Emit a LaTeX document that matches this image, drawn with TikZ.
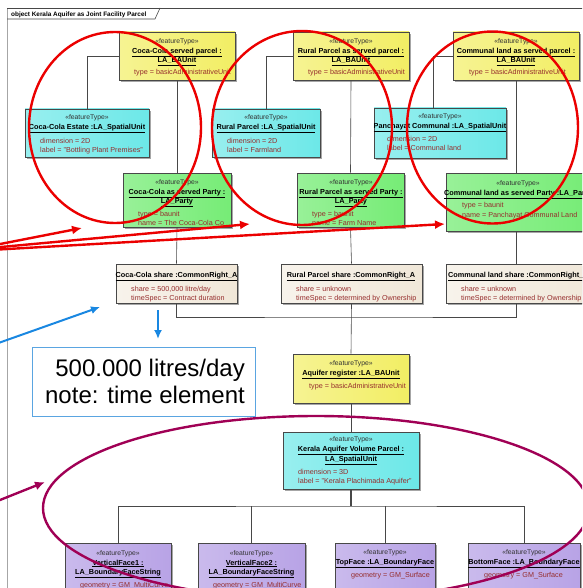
\documentclass[tikz,border=0pt]{standalone}
\usepackage{fontspec}
\setmainfont{Liberation Sans}
\usetikzlibrary{arrows.meta,fit,shadows}
\definecolor{ycol}{RGB}{242,238,100}
\definecolor{ccol}{RGB}{108,232,232}
\definecolor{gcol}{RGB}{118,236,118}
\definecolor{bcol}{RGB}{240,231,216}
\definecolor{pcol}{RGB}{184,163,230}
\definecolor{attr}{RGB}{150,45,45}
\definecolor{bord}{RGB}{72,72,72}
\definecolor{annred}{RGB}{235,0,0}
\definecolor{annmag}{RGB}{160,0,85}
\definecolor{annblue}{RGB}{25,135,225}
\definecolor{noteb}{RGB}{90,165,225}
\newcommand\myul[1]{\underline{#1}}
\begin{document}
\begin{tikzpicture}[x=1pt,y=-1pt,
  umlbox/.style={draw=bord, line width=0.6pt, inner sep=0pt,
    drop shadow={shadow xshift=1.6pt,shadow yshift=-1.6pt,opacity=0.35,fill=black}},
  ybox/.style={umlbox, left color=ycol!70!white, right color=ycol},
  cbox/.style={umlbox, left color=ccol!70!white, right color=ccol},
  gbox/.style={umlbox, left color=gcol!75!white, right color=gcol},
  bbox/.style={umlbox, left color=bcol!50!white, right color=bcol},
  pbox/.style={umlbox, left color=pcol!75!white, right color=pcol},
  sttxt/.style={font=\fontsize{6.8}{7}\selectfont, text=black!80, inner sep=0pt, anchor=base},
  nmtxt/.style={font=\bfseries\fontsize{7.3}{8}\selectfont, inner sep=0pt, anchor=base},
  nmltxt/.style={nmtxt, anchor=base west},
  attrtxt/.style={font=\fontsize{7.2}{8}\selectfont, text=attr, inner sep=0pt, anchor=base west},
  conn/.style={draw=bord, line width=0.6pt},
  annarrow/.style={line width=2.4pt, -{Latex[length=10pt,width=9pt]}},
  annring/.style={line width=2.4pt}
]
\useasboundingbox (0,0) rectangle (582,588);
\clip (0,0) rectangle (582,588);

% frame
\draw[gray!70, line width=1pt] (7,590) -- (7,8);
\draw[bord, line width=0.6pt] (7,8) -- (584,8);
\draw[bord, line width=0.6pt] (7,19) -- (155,19) -- (160,8);
\node[font=\bfseries\fontsize{6.4}{7}\selectfont, inner sep=0pt, anchor=base west] (title) at (11,16.5) {object Kerala Aquifer as Joint Facility Parcel};

% ===== yellow BAUnits =====
\node[ybox, fit={(119,32) (235,80)}] (y1) {};
\node[sttxt] (y1s) at (177,43.5) {«featureType»};
\node[nmtxt] (y1n) at (177,53.5) {\myul{Coca-Cola served parcel :}};
\node[nmtxt] (y1m) at (177,63) {\myul{LA\_BAUnit}};
\node[attrtxt] (y1a) at (134,75) {type = basicAdministrativeUnit};

\node[ybox, fit={(293,32) (409,80)}] (y2) {};
\node[sttxt] (y2s) at (351,43.5) {«featureType»};
\node[nmtxt] (y2n) at (351,53.5) {\myul{Rural Parcel as served parcel :}};
\node[nmtxt] (y2m) at (351,63) {\myul{LA\_BAUnit}};
\node[attrtxt] (y2a) at (308,75) {type = basicAdministrativeUnit};

\node[ybox, fit={(453,32) (579,80)}] (y3) {};
\node[sttxt] (y3s) at (516,43.5) {«featureType»};
\node[nmtxt] (y3n) at (516,53.5) {\myul{Communal land as served parcel :}};
\node[nmtxt] (y3m) at (516,63) {\myul{LA\_BAUnit}};
\node[attrtxt] (y3a) at (469,75) {type = basicAdministrativeUnit};

% ===== cyan spatial units =====
\node[cbox, fit={(25,109) (149,157)}] (c1) {};
\node[sttxt] (c1s) at (87,119.5) {«featureType»};
\node[nmtxt] (c1n) at (87,129.5) {\myul{Coca-Cola Estate :LA\_SpatialUnit}};
\node[attrtxt] (c1a) at (40,143.5) {dimension = 2D};
\node[attrtxt] (c1b) at (40,152.5) {label = "Bottling Plant Premises"};

\node[cbox, fit={(212,109) (320,157)}] (c2) {};
\node[sttxt] (c2s) at (266,119.5) {«featureType»};
\node[nmtxt] (c2n) at (266,129.5) {\myul{Rural Parcel :LA\_SpatialUnit}};
\node[attrtxt] (c2a) at (227,143.5) {dimension = 2D};
\node[attrtxt] (c2b) at (227,152.5) {label = Farmland};

\node[cbox, fit={(374,108) (506,158)}] (c3) {};
\node[sttxt] (c3s) at (440,118.5) {«featureType»};
\node[nmtxt] (c3n) at (440,128.5) {\myul{Panchayat Communal :LA\_SpatialUnit}};
\node[attrtxt] (c3a) at (387,142) {dimension = 2D};
\node[attrtxt] (c3b) at (387,151) {label = Communal land};

% ===== green parties =====
\node[gbox, fit={(123,173) (231,227)}] (g1) {};
\node[sttxt] (g1s) at (177,184.5) {«featureType»};
\node[nmtxt] (g1n) at (177,194) {\myul{Coca-Cola as served Party :}};
\node[nmtxt] (g1m) at (177,203.5) {\myul{LA\_Party}};
\node[attrtxt] (g1a) at (138,216.5) {type = baunit};
\node[attrtxt] (g1b) at (138,225.5) {name = The Coca-Cola Co};

\node[gbox, fit={(297,173) (404,227)}] (g2) {};
\node[sttxt] (g2s) at (351,184.5) {«featureType»};
\node[nmtxt] (g2n) at (351,194) {\myul{Rural Parcel as served Party :}};
\node[nmtxt] (g2m) at (351,203.5) {\myul{LA\_Party}};
\node[attrtxt] (g2a) at (312,216.5) {type = baunit};
\node[attrtxt] (g2b) at (312,225.5) {name = Farm Name};

\node[gbox, fit={(446,173) (590,231)}] (g3) {};
\node[sttxt] (g3s) at (518,185.5) {«featureType»};
\node[nmltxt] (g3n) at (444,195) {\myul{Communal land as served Party :LA\_Party}};
\node[attrtxt] (g3a) at (462,207.5) {type = baunit};
\node[attrtxt] (g3b) at (462,217) {name = Panchayat Communal Land};

% ===== beige shares =====
\node[bbox, fit={(116,264) (237,303)}] (s1) {};
\node[nmtxt] (s1n) at (176.5,277.5) {\myul{Coca-Cola share :CommonRight\_A}};
\node[attrtxt] (s1a) at (131,291) {share = 500,000 litre/day};
\node[attrtxt] (s1b) at (131,300.5) {timeSpec = Contract duration};

\node[bbox, fit={(281,264) (422,303)}] (s2) {};
\node[nmtxt] (s2n) at (351,277.5) {\myul{Rural Parcel share :CommonRight\_A}};
\node[attrtxt] (s2a) at (296,291) {share = unknown};
\node[attrtxt] (s2b) at (296,300.5) {timeSpec = determined by Ownership};

\node[bbox, fit={(446,264) (600,303)}] (s3) {};
\node[nmltxt] (s3n) at (448,277.5) {\myul{Communal land share :CommonRight\_A}};
\node[attrtxt] (s3a) at (461,291) {share = unknown};
\node[attrtxt] (s3b) at (461,300.5) {timeSpec = determined by Ownership};

% ===== aquifer register =====
\node[ybox, fit={(293,354) (409,403)}] (ar) {};
\node[sttxt] (ars) at (351,365.5) {«featureType»};
\node[nmtxt] (arn) at (351,375) {\myul{Aquifer register :LA\_BAUnit}};
\node[attrtxt] (ara) at (309,388.5) {type = basicAdministrativeUnit};

% ===== volume parcel =====
\node[cbox, fit={(283,432) (419,489)}] (kv) {};
\node[sttxt] (kvs) at (351,441.5) {«featureType»};
\node[nmtxt] (kvn) at (351,451.5) {\myul{Kerala Aquifer Volume Parcel :}};
\node[nmtxt] (kvm) at (351,461) {\myul{LA\_SpatialUnit}};
\node[attrtxt] (kva) at (298,474.5) {dimension = 3D};
\node[attrtxt] (kvb) at (298,483.5) {label = "Kerala Plachimada Aquifer"};

% ===== purple boundary faces =====
\node[pbox, fit={(65,543) (171,600)}] (p1) {};
\node[sttxt] (p1s) at (118,555.5) {«featureType»};
\node[nmtxt] (p1n) at (118,565) {\myul{VerticalFace1 :}};
\node[nmtxt] (p1m) at (118,574) {\myul{LA\_BoundaryFaceString}};
\node[attrtxt] (p1a) at (80,587) {geometry = GM\_MultiCurve};

\node[pbox, fit={(198,543) (305,600)}] (p2) {};
\node[sttxt] (p2s) at (251.5,555.5) {«featureType»};
\node[nmtxt] (p2n) at (251.5,565) {\myul{VerticalFace2 :}};
\node[nmtxt] (p2m) at (251.5,574) {\myul{LA\_BoundaryFaceString}};
\node[attrtxt] (p2a) at (213,587) {geometry = GM\_MultiCurve};

\node[pbox, fit={(335,543) (435,600)}] (p3) {};
\node[sttxt] (p3s) at (385,554.5) {«featureType»};
\node[nmtxt] (p3n) at (385,564) {\myul{TopFace :LA\_BoundaryFace}};
\node[attrtxt] (p3a) at (351,577.5) {geometry = GM\_Surface};

\node[pbox, fit={(468,543) (580,600)}] (p4) {};
\node[sttxt] (p4s) at (524,554.5) {«featureType»};
\node[nmtxt] (p4n) at (524,564) {\myul{BottomFace :LA\_BoundaryFace}};
\node[attrtxt] (p4a) at (484,577.5) {geometry = GM\_Surface};

% ===== connectors =====
\draw[conn] (y1.west) -| (c1.north);
\draw[conn] (y1.south) -- (g1.north);
\draw[conn] (g1.south) -- (s1.north);
\draw[conn] (y2.west) -| (c2.north);
\draw[conn] (y2.south) -- (g2.north);
\draw[conn] (g2.south) -- (s2.north);
\coordinate (c3t) at (433,108);
\coordinate (g3t) at (516,173);
\coordinate (g3b) at (516,231);
\coordinate (s3t) at (516,264);
\coordinate (s3b) at (516,303);
\draw[conn] (y3.west) -| (c3t);
\draw[conn] (y3.south) -- (g3t);
\draw[conn] (g3b) -- (s3t);
\coordinate (j) at (351,317);
\draw[conn] (s1.south) |- (j) -| (s3b);
\draw[conn] (s2.south) -- (ar.north);
\draw[conn] (ar.south) -- (kv.north);
\coordinate (k) at (351,506);
\draw[conn, line width=1.8pt] (kv.south) -- (k);
\draw[conn] (p1.north) |- (k) -| (p4.north);
\draw[conn] (p2.north) -- (p2.north |- k);
\draw[conn] (p3.north) -- (p3.north |- k);

% ===== note =====
\node[draw=noteb, line width=0.8pt, fit={(32,347) (255,416)}, inner sep=0pt] (note) {};
\node[font=\fontsize{24}{27}\selectfont, align=right, anchor=north east, inner sep=0pt] (notet) at (245,359) {500.000 litres/day\\note: time element};

% ===== annotations =====
\draw[annred, annring] (115,127.5) ellipse [x radius=86, y radius=95.5];
\draw[annred, annring] (302,128) ellipse [x radius=90, y radius=97];
\draw[annred, annring] (492.5,127.5) ellipse [x radius=85.5, y radius=96];
\coordinate (r0a) at (-10,246);
\coordinate (r0b) at (-10,248);
\coordinate (r0c) at (-10,250);
\coordinate (r1) at (82,228);
\coordinate (r2) at (250,224);
\coordinate (r3) at (445,224);
\draw[annred, annarrow] (r0a) -- (r1);
\draw[annred, annarrow] (r0b) -- (r2);
\draw[annred, annarrow] (r0c) -- (r3);

\coordinate (b0) at (-10,346);
\coordinate (b1) at (100,307);
\coordinate (b2) at (158,310);
\coordinate (b3) at (158,339);
\draw[annblue, line width=2pt, -{Latex[length=9pt,width=8pt]}] (b0) -- (b1);
\draw[annblue, line width=2pt, -{Latex[length=9pt,width=8pt]}] (b2) -- (b3);

\draw[annmag, annring] (316,508) ellipse [x radius=273, y radius=92];
\coordinate (m0) at (-10,504);
\coordinate (m1) at (45,482);
\draw[annmag, annarrow] (m0) -- (m1);
\end{tikzpicture}
\end{document}
